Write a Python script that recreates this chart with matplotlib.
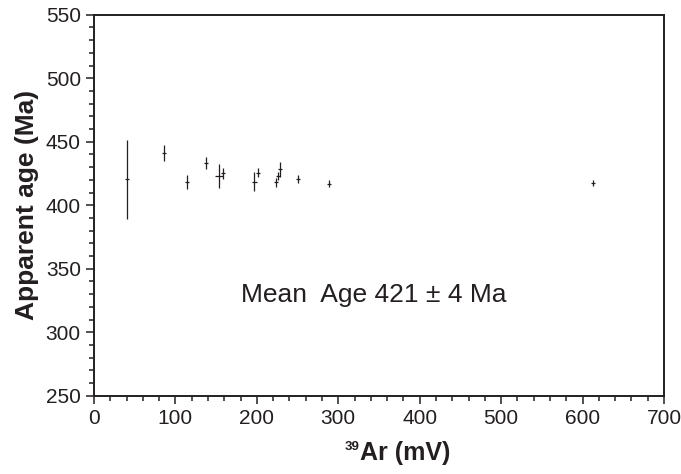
import matplotlib
matplotlib.use('Agg')
import matplotlib.pyplot as plt
from matplotlib.ticker import MultipleLocator

plt.rcParams['font.family'] = ['Liberation Sans', 'DejaVu Sans']

# 39Ar signal (mV), apparent age (Ma) and errors
ar39 = [41, 86, 114, 138, 154, 158, 197, 201, 223, 226, 229, 251, 289, 613]
age = [420.5, 441, 418.5, 433, 423, 425, 418.5, 425.5, 418, 423, 428.3, 420.7, 417, 417.5]
age_err = [31, 6.5, 5.5, 4.7, 9.2, 4, 7.5, 3.5, 3.5, 2.8, 6, 3, 2.5, 2]
ar_err = [2.5, 2.5, 2.5, 2.5, 5, 2.5, 3, 2.5, 2.5, 2.5, 2.5, 2.5, 2.5, 2.5]

ink = '#231f20'

fig = plt.figure(figsize=(6.81, 4.74), dpi=100)
ax = fig.add_axes([0.138, 0.165, 0.837, 0.804])

ax.errorbar(ar39, age, yerr=age_err, xerr=ar_err, fmt='none',
            ecolor=ink, elinewidth=0.9, capsize=0)

ax.set_xlim(0, 700)
ax.set_ylim(250, 550)
ax.xaxis.set_major_locator(MultipleLocator(100))
ax.xaxis.set_minor_locator(MultipleLocator(20))
ax.yaxis.set_major_locator(MultipleLocator(50))
ax.yaxis.set_minor_locator(MultipleLocator(10))

ax.tick_params(which='both', direction='out', top=False, right=False,
               colors=ink, labelsize=15, width=1.1)
ax.tick_params(which='major', length=6)
ax.tick_params(which='minor', length=3.5)
for s in ax.spines.values():
    s.set_linewidth(1.4)
    s.set_color(ink)

# x label: small bold superscript "39" in front of "Ar (mV)"
ax.set_xlabel('Ar (mV)', fontsize=18, fontweight='bold', color=ink)
ax.xaxis.set_label_coords(0.546, -0.169)
ax.xaxis.label.set_va('baseline')
ax.text(0.466, -0.141, '39', transform=ax.transAxes, fontsize=9.5,
        fontweight='bold', color=ink, ha='right', va='baseline')

ax.set_ylabel('Apparent age (Ma)', fontsize=19, fontweight='bold', color=ink, labelpad=5)

ax.text(344, 329, 'Mean  Age 421 \u00b1 4 Ma', fontsize=19, color=ink,
        ha='center', va='center')

fig.savefig('out.png', dpi=100)
